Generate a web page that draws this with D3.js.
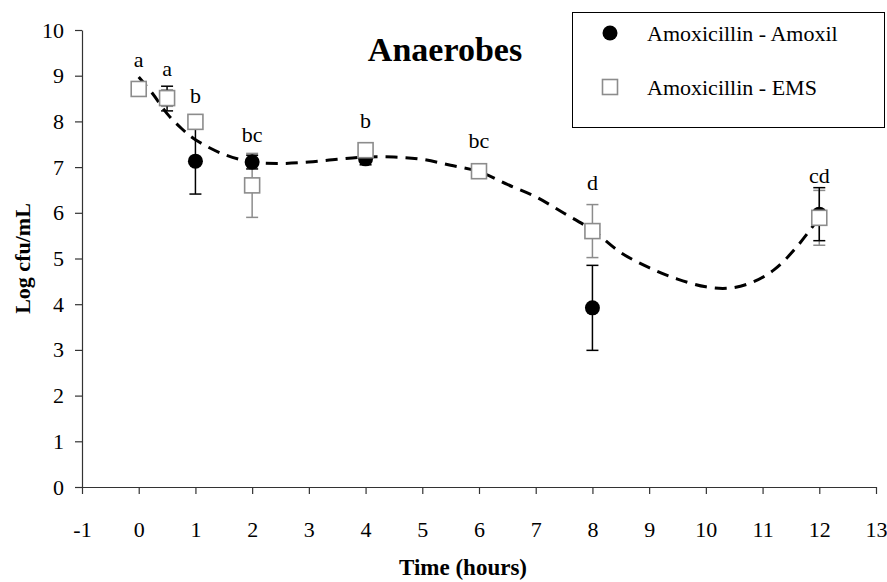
<!DOCTYPE html>
<html>
<head>
<meta charset="utf-8">
<script src="https://cdn.jsdelivr.net/npm/d3@7"></script>
<style>
  html, body { margin: 0; padding: 0; background: #fff; }
  svg { display: block; font-family: "Liberation Serif", "Times New Roman", serif; }
</style>
</head>
<body>
<svg id="chart" width="887" height="582"></svg>
<script>
// ---- data ----
const times = [0, 0.5, 1, 2, 4, 6, 8, 12];
const amoxilMean = [8.70, 8.50, 7.13, 7.11, 7.18, 6.91, 3.92, 5.97];
const amoxilErr  = [0.15, 0.27, 0.72, 0.15, 0.13, 0.08, 0.93, 0.58];
const emsMean    = [8.71, 8.51, 7.99, 6.60, 7.37, 6.91, 5.60, 5.89];
const emsErr     = [0.15, 0.18, 0.15, 0.70, 0.10, 0.08, 0.58, 0.60];
const groupLabels = ["a", "a", "b", "bc", "b", "bc", "d", "cd"];
const labelLevel  = [9.19, 9.00, 8.40, 7.55, 7.86, 7.42, 6.50, 6.65];
const trendX = [0, 0.25, 0.5, 0.75, 1, 1.5, 2, 2.5, 3, 3.5, 4, 4.5, 5, 5.5, 6, 6.5, 7, 7.5, 8, 8.5, 9, 9.5, 10, 10.4, 10.8, 11.2, 11.6, 12];
const trendY = [8.97, 8.60, 8.17, 7.85, 7.60, 7.28, 7.11, 7.08, 7.11, 7.17, 7.22, 7.22, 7.17, 7.04, 6.90, 6.62, 6.35, 5.99, 5.62, 5.13, 4.80, 4.55, 4.38, 4.35, 4.47, 4.75, 5.25, 5.90];
const xTicks = [-1, 0, 1, 2, 3, 4, 5, 6, 7, 8, 9, 10, 11, 12, 13];
const yTicks = [0, 1, 2, 3, 4, 5, 6, 7, 8, 9, 10];
const seriesNames = ["Amoxicillin - Amoxil", "Amoxicillin - EMS"];
const title = "Anaerobes";
const xTitle = "Time (hours)";
const yTitle = "Log cfu/mL";

// ---- layout ----
const svg = d3.select("#chart");
const mLeft = 82, mRight = 876, mTop = 30, mBottom = 487;
const x = d3.scaleLinear().domain([-1, 13]).range([mLeft, mRight]);
const y = d3.scaleLinear().domain([0, 10]).range([mBottom, mTop]);
const axisColor = "#333";
const grey = "#8c8c8c";
const fmt = d => String(d);

// axes
const xAxis = svg.append("g").attr("transform", `translate(0,${mBottom})`)
  .call(d3.axisBottom(x).tickValues(xTicks).tickSize(7).tickSizeOuter(0).tickPadding(27).tickFormat(fmt));
const yAxis = svg.append("g").attr("transform", `translate(${mLeft},0)`)
  .call(d3.axisLeft(y).tickValues(yTicks).tickSize(7).tickSizeOuter(0).tickPadding(11).tickFormat(fmt));
[xAxis, yAxis].forEach(g => {
  g.select(".domain").attr("stroke", axisColor).attr("stroke-width", 1.2);
  g.selectAll(".tick line").attr("stroke", axisColor).attr("stroke-width", 1.2);
  g.selectAll(".tick text").attr("fill", "#000").style("font-size", "22px")
    .style("font-family", "'Liberation Serif', 'Times New Roman', serif");
});
xAxis.selectAll(".tick text").attr("dy", "0.71em");

// trend line
svg.append("path")
  .datum(trendX.map((t, i) => [t, trendY[i]]))
  .attr("fill", "none").attr("stroke", "#000").attr("stroke-width", 3)
  .attr("stroke-dasharray", "12,8")
  .attr("d", d3.line().x(d => x(d[0])).y(d => y(d[1])).curve(d3.curveCatmullRom));

// error bars
function errBars(mean, err, color) {
  const g = svg.append("g");
  times.forEach((t, i) => {
    const cx = x(t), y1 = y(mean[i] + err[i]), y2 = y(mean[i] - err[i]);
    g.append("line").attr("x1", cx).attr("x2", cx).attr("y1", y1).attr("y2", y2).attr("stroke", color).attr("stroke-width", 1.5);
    [y1, y2].forEach(yy => g.append("line").attr("x1", cx - 6).attr("x2", cx + 6).attr("y1", yy).attr("y2", yy).attr("stroke", color).attr("stroke-width", 1.5));
  });
}
errBars(emsMean, emsErr, grey);
errBars(amoxilMean, amoxilErr, "#000");

// circles
svg.append("g").selectAll("circle").data(times).join("circle")
  .attr("cx", (t) => x(t)).attr("cy", (t, i) => y(amoxilMean[i])).attr("r", 7.5).attr("fill", "#000");
// squares
const sq = 15;
svg.append("g").selectAll("rect").data(times).join("rect")
  .attr("x", t => x(t) - sq / 2).attr("y", (t, i) => y(emsMean[i]) - sq / 2)
  .attr("width", sq).attr("height", sq).attr("fill", "#fff").attr("stroke", grey).attr("stroke-width", 1.6);

// group letters
svg.append("g").selectAll("text").data(times).join("text")
  .attr("x", t => x(t)).attr("y", (t, i) => y(labelLevel[i]))
  .attr("text-anchor", "middle").style("font-size", "22px").text((t, i) => groupLabels[i]);

// title
svg.append("text").attr("x", 445).attr("y", 61).attr("text-anchor", "middle")
  .style("font-size", "34px").style("font-weight", "bold").text(title);

// axis titles
svg.append("text").attr("x", 463).attr("y", 575).attr("text-anchor", "middle")
  .style("font-size", "23px").style("font-weight", "bold").text(xTitle);
svg.append("text").attr("transform", `translate(30,${(mTop + mBottom) / 2}) rotate(-90)`).attr("text-anchor", "middle")
  .style("font-size", "22px").style("font-weight", "bold").text(yTitle);

// legend
const lg = svg.append("g");
lg.append("rect").attr("x", 572.5).attr("y", 12.5).attr("width", 312).attr("height", 115)
  .attr("fill", "#fff").attr("stroke", "#000").attr("stroke-width", 1);
lg.append("circle").attr("cx", 610).attr("cy", 33).attr("r", 7.5).attr("fill", "#000");
lg.append("rect").attr("x", 610 - sq / 2).attr("y", 87 - sq / 2).attr("width", sq).attr("height", sq)
  .attr("fill", "#fff").attr("stroke", grey).attr("stroke-width", 1.6);
lg.selectAll("text.lbl").data(seriesNames).join("text").attr("class", "lbl")
  .attr("x", 647).attr("y", (d, i) => [33, 87][i]).attr("dy", "0.35em")
  .style("font-size", "22px").text(d => d);
</script>
</body>
</html>
